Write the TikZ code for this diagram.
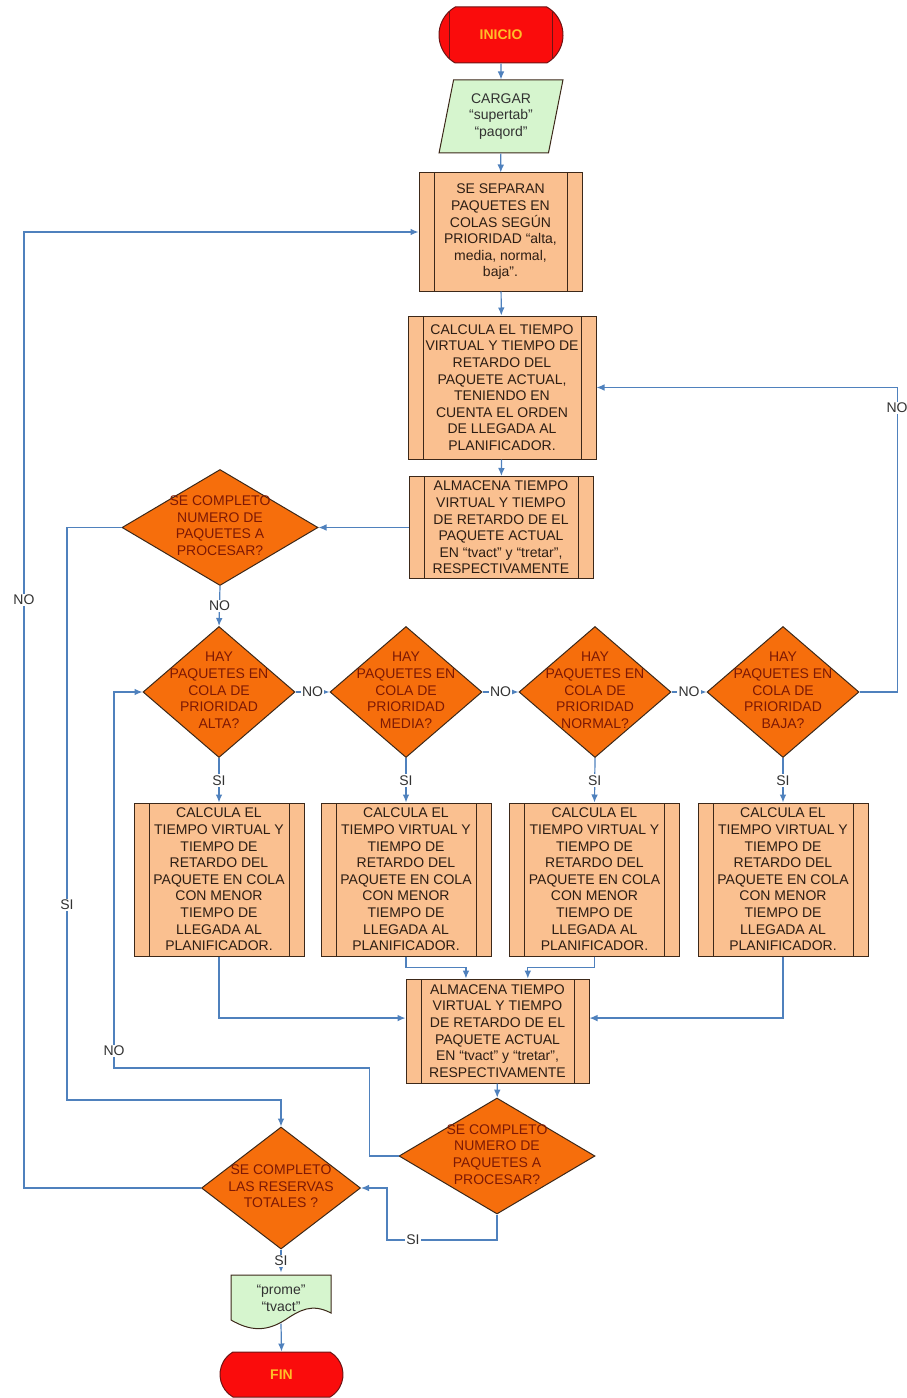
\documentclass[tikz,border=0pt]{standalone}
\usepackage{fontspec}
\setmainfont{Liberation Sans}
\usetikzlibrary{shapes.geometric,shapes.misc,arrows.meta}

\definecolor{azulflecha}{RGB}{79,129,189}
\definecolor{rojoterm}{RGB}{250,12,12}
\definecolor{bordeterm}{RGB}{110,20,20}
\definecolor{letraterm}{RGB}{255,190,40}
\definecolor{verdedato}{RGB}{214,245,206}
\definecolor{naranjaproc}{RGB}{250,192,144}
\definecolor{bordeproc}{RGB}{60,40,25}
\definecolor{letraproc}{RGB}{45,30,20}
\definecolor{naranjadec}{RGB}{246,110,12}
\definecolor{letradec}{RGB}{125,25,5}
\definecolor{letraetiq}{RGB}{50,50,50}

\newcommand{\dtxt}[1]{\makebox[0pt]{\raisebox{-0.25em}[0pt][0pt]{\begin{tabular}{@{}c@{}}#1\end{tabular}}}}

\tikzset{every picture/.style={line width=0.75pt}}
\tikzset{
	terminal/.style={rounded rectangle, rounded rectangle arc length=120, draw=bordeterm, fill=rojoterm, text=letraterm, font=\fontsize{10.5}{12.45}\selectfont\bfseries, inner sep=0pt},
	lineasterm/.style={path picture={\draw[bordeterm] ([xshift=11.25pt]path picture bounding box.north west) -- ([xshift=11.25pt]path picture bounding box.south west) ([xshift=-11.25pt]path picture bounding box.north east) -- ([xshift=-11.25pt]path picture bounding box.south east);}},
	datos/.style={trapezium, trapezium left angle=78, trapezium right angle=102, trapezium stretches=true, draw=bordeproc, fill=verdedato, text=letraetiq, align=center, inner sep=0pt, font=\fontsize{10.5}{12.45}\selectfont},
	subproc/.style={rectangle, draw=bordeproc, fill=naranjaproc, text=letraproc, align=center, inner sep=0pt, font=\fontsize{10.5}{12.45}\selectfont, path picture={\draw[bordeproc] ([xshift=11.25pt]path picture bounding box.north west) -- ([xshift=11.25pt]path picture bounding box.south west) ([xshift=-11.25pt]path picture bounding box.north east) -- ([xshift=-11.25pt]path picture bounding box.south east);}},
	decision/.style={diamond, draw=bordeproc, fill=naranjadec, text=letradec, inner sep=0pt, font=\fontsize{10.5}{12.45}\selectfont},
	conector/.style={draw=azulflecha, line width=0.9pt, -{Latex[length=6pt,width=5pt]}},
	etiqueta/.style={fill=white, inner sep=1pt, text=letraetiq, font=\fontsize{10.5}{12.45}\selectfont}
}

\begin{document}
\begin{tikzpicture}[x=0.75pt,y=0.75pt,yscale=-1,xscale=1]
	\useasboundingbox (0,0) rectangle (906,1398);

	%Shape: Terminal
	\node[terminal, lineasterm, minimum width=93pt, minimum height=42pt] (ini) at (501,35) {INICIO};
	%Shape: Data
	\node[datos, minimum width=93pt, minimum height=54.75pt] (car) at (501,116.5) {CARGAR\\“supertab”\\“paqord”};
	%Shape: Predefined Process
	\node[subproc, minimum width=122.25pt, minimum height=88.5pt] (sep) at (500.5,232) {SE SEPARAN\\PAQUETES EN\\COLAS SEGÚN\\PRIORIDAD “alta,\\media, normal,\\baja”.};
	%Shape: Predefined Process
	\node[subproc, minimum width=141pt, minimum height=107.25pt] (calc) at (502,387.5) {CALCULA EL TIEMPO\\VIRTUAL Y TIEMPO DE\\RETARDO DEL\\PAQUETE ACTUAL,\\TENIENDO EN\\CUENTA EL ORDEN\\DE LLEGADA AL\\PLANIFICADOR.};
	%Shape: Predefined Process
	\node[subproc, minimum width=138pt, minimum height=76.5pt] (alm) at (501,527.5) {ALMACENA TIEMPO\\VIRTUAL Y TIEMPO\\DE RETARDO DE EL\\PAQUETE ACTUAL\\EN “tvact” y “tretar”,\\RESPECTIVAMENTE};
	%Shape: Diamond
	\node[decision, minimum width=147pt, minimum height=87pt] (dcomp) at (220,527.5) {\dtxt{SE COMPLETO\\NUMERO DE\\PAQUETES A\\PROCESAR?}};

	%Shape: Diamond
	\node[decision, minimum width=114pt, minimum height=98.25pt] (dalta) at (219,692) {\dtxt{HAY\\PAQUETES EN\\COLA DE\\PRIORIDAD\\ALTA?}};
	%Shape: Diamond
	\node[decision, minimum width=114pt, minimum height=98.25pt] (dmed) at (406,692) {\dtxt{HAY\\PAQUETES EN\\COLA DE\\PRIORIDAD\\MEDIA?}};
	%Shape: Diamond
	\node[decision, minimum width=114pt, minimum height=98.25pt] (dnor) at (595,692) {\dtxt{HAY\\PAQUETES EN\\COLA DE\\PRIORIDAD\\NORMAL?}};
	%Shape: Diamond
	\node[decision, minimum width=114pt, minimum height=98.25pt] (dbaj) at (783,692) {\dtxt{HAY\\PAQUETES EN\\COLA DE\\PRIORIDAD\\BAJA?}};

	%Shape: Predefined Process
	\node[subproc, minimum width=127.5pt, minimum height=114.75pt] (pa) at (219,879.5) {CALCULA EL\\TIEMPO VIRTUAL Y\\TIEMPO DE\\RETARDO DEL\\PAQUETE EN COLA\\CON MENOR\\TIEMPO DE\\LLEGADA AL\\PLANIFICADOR.};
	%Shape: Predefined Process
	\node[subproc, minimum width=127.5pt, minimum height=114.75pt] (pb) at (406,879.5) {CALCULA EL\\TIEMPO VIRTUAL Y\\TIEMPO DE\\RETARDO DEL\\PAQUETE EN COLA\\CON MENOR\\TIEMPO DE\\LLEGADA AL\\PLANIFICADOR.};
	%Shape: Predefined Process
	\node[subproc, minimum width=127.5pt, minimum height=114.75pt] (pc) at (594.5,879.5) {CALCULA EL\\TIEMPO VIRTUAL Y\\TIEMPO DE\\RETARDO DEL\\PAQUETE EN COLA\\CON MENOR\\TIEMPO DE\\LLEGADA AL\\PLANIFICADOR.};
	%Shape: Predefined Process
	\node[subproc, minimum width=127.5pt, minimum height=114.75pt] (pd) at (783,879.5) {CALCULA EL\\TIEMPO VIRTUAL Y\\TIEMPO DE\\RETARDO DEL\\PAQUETE EN COLA\\CON MENOR\\TIEMPO DE\\LLEGADA AL\\PLANIFICADOR.};

	%Shape: Predefined Process
	\node[subproc, minimum width=137.25pt, minimum height=78pt] (alm2) at (497.5,1031) {ALMACENA TIEMPO\\VIRTUAL Y TIEMPO\\DE RETARDO DE EL\\PAQUETE ACTUAL\\EN “tvact” y “tretar”,\\RESPECTIVAMENTE};
	%Shape: Diamond
	\node[decision, minimum width=147pt, minimum height=87pt] (dcomp2) at (497,1156) {\dtxt{SE COMPLETO\\NUMERO DE\\PAQUETES A\\PROCESAR?}};
	%Shape: Diamond
	\node[decision, minimum width=119.25pt, minimum height=91.5pt] (dres) at (281,1188) {\dtxt{SE COMPLETO\\LAS RESERVAS\\TOTALES ?}};

	%Shape: Document
	\draw[draw=bordeproc, fill=verdedato] (231,1275) -- (331,1275) -- (331,1313) .. controls (312,1303) and (300,1310) .. (285,1320) .. controls (266,1332) and (250,1331) .. (231,1320) -- cycle ;
	\node[text=letraetiq, align=center, inner sep=0pt, minimum width=75pt, minimum height=37.5pt, font=\fontsize{10.5}{12.45}\selectfont] (doc) at (281,1298) {“prome”\\“tvact”};
	%Shape: Terminal
	\node[terminal, minimum width=92.25pt, minimum height=33.75pt] (fin) at (281.5,1374.5) {FIN};

	%Straight Lines
	\draw[conector] (ini) -- (car);
	\draw[conector] (car) -- (sep);
	\draw[conector] (sep) -- (calc);
	\draw[conector] (calc) -- (alm);
	\draw[conector] (alm.west) -- (dcomp.east);
	\draw[conector] (dcomp.south) -- (dalta.north) node[etiqueta, midway] (no1) {NO};
	%Straight Lines
	\draw[conector] (dalta.east) -- (dmed.west) node[etiqueta, midway] (no2) {NO};
	\draw[conector] (dmed.east) -- (dnor.west) node[etiqueta, midway] (no3) {NO};
	\draw[conector] (dnor.east) -- (dbaj.west) node[etiqueta, midway] (no4) {NO};
	\draw[conector] (dbaj.east) -- ++(38,0) |- (calc.east);
	\node[etiqueta] (no5) at (897,408) {NO};
	%Straight Lines
	\draw[conector] (dalta.south) -- (pa.north) node[etiqueta, midway] (si1) {SI};
	\draw[conector] (dmed.south) -- (pb.north) node[etiqueta, midway] (si2) {SI};
	\draw[conector] (dnor.south) -- (pc.north) node[etiqueta, midway] (si3) {SI};
	\draw[conector] (dbaj.south) -- (pd.north) node[etiqueta, midway] (si4) {SI};
	%Straight Lines
	\draw[conector] (pa.south) |- (alm2.172);
	\draw[conector] (pd.south) |- (alm2.8);
	\draw[conector] (pb.south) -- ++(0,11) -| (alm2.121);
	\draw[conector] (pc.south) -- ++(0,11) -| (alm2.60);
	\draw[conector] (alm2) -- (dcomp2);
	%Straight Lines
	\coordinate (siA) at (67,1100);
	\draw[conector] (dcomp.west) -| (siA) -| (dres.north);
	\node[etiqueta] (si5) at (67,905) {SI};
	\coordinate (noB) at (114,1068);
	\draw[conector] (dcomp2.west) -- ++(-29,0) |- (noB) |- (dalta.west);
	\node[etiqueta] (no6) at (114,1051) {NO};
	\coordinate (siB) at (387,1240);
	\draw[conector] (dcomp2.south) |- (siB) |- (dres.east);
	\node[etiqueta] (si6) at (413,1240) {SI};
	\coordinate (noA) at (24,600);
	\draw[conector] (dres.west) -| (noA) |- (sep.west);
	\node[etiqueta] (no7) at (noA) {NO};
	%Straight Lines
	\draw[conector] (dres.south) -- (doc.north) node[etiqueta, midway] (si7) {SI};
	\draw[conector] (doc.south) -- (fin.north);

\end{tikzpicture}
\end{document}
